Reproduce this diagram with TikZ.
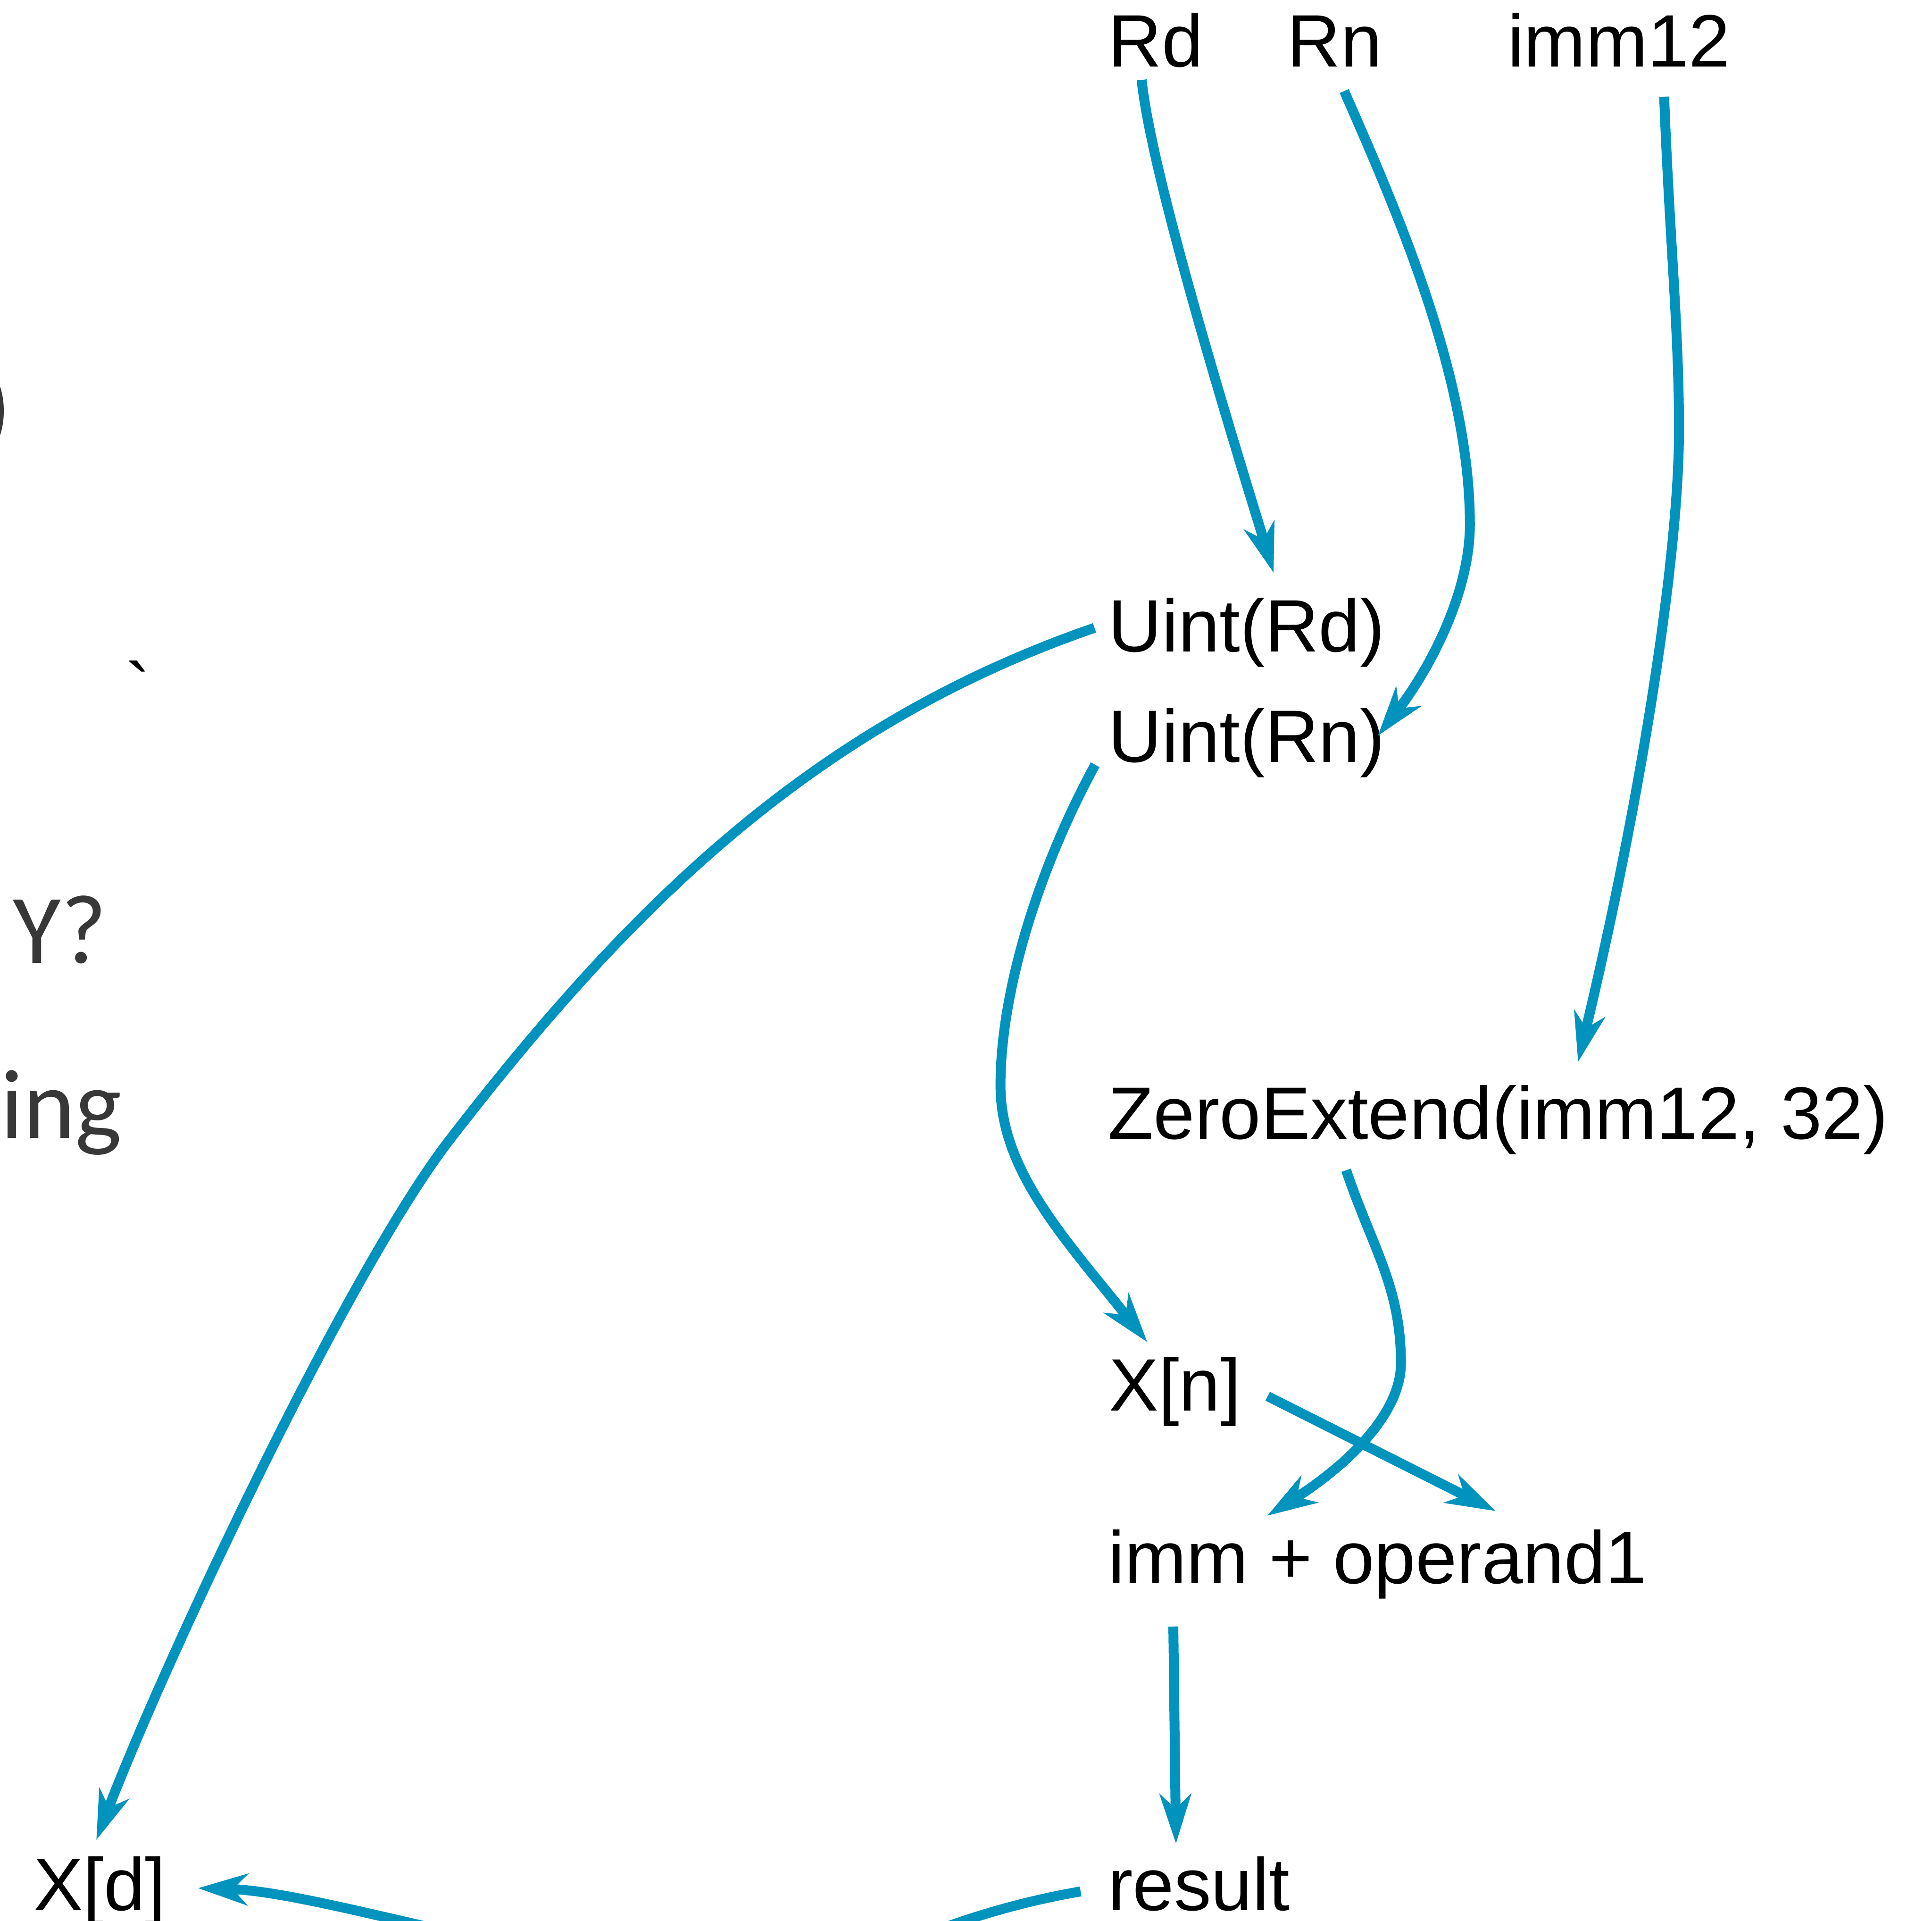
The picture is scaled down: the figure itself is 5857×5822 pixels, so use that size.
\documentclass[tikz,border=0pt]{standalone}
\usepackage{fontspec}
\setmainfont{Liberation Sans}
\newfontfamily\carlito{Carlito}
\newfontfamily\plainsans{Liberation Sans}[Ligatures=TeXOff]
\usetikzlibrary{arrows.meta}
\definecolor{flowblue}{RGB}{0,147,190}
\definecolor{ghost}{RGB}{56,56,56}
\tikzset{
  lbl/.style={anchor=base west, inner sep=0pt, outer sep=0pt, font=\fontsize{64}{77}\selectfont},
  ghosttxt/.style={anchor=base west, inner sep=0pt, outer sep=0pt, text=ghost, font=\carlito\fontsize{85}{100}\selectfont},
  flow/.style={draw=flowblue, line width=0.3cm, -{Stealth[length=1.5cm,width=0.95cm,inset=0.45cm]}},
  flowplain/.style={draw=flowblue, line width=0.3cm},
}
\begin{document}
\begin{tikzpicture}[x=0.01cm,y=-0.01cm]
\useasboundingbox (0,0) rectangle (5857,5822);
\clip (0,0) rectangle (5857,5822);

% main labels
\node[lbl] (rd)     at (3360,203)  {Rd};
\node[lbl] (rn)     at (3902,203)  {Rn};
\node[lbl] (imm)    at (4570,203)  {imm12};
\node[lbl] (uintrd) at (3360,1975) {Uint(Rd)};
\node[lbl] (uintrn) at (3360,2310) {Uint(Rn)};
\node[lbl] (zext)   at (3360,3453) {ZeroExtend(imm12, 32)};
\node[lbl] (xn)     at (3362,4276) {X[n]};
\node[lbl] (immop)  at (3360,4800) {imm + operand1};
\node[lbl] (result) at (3359,5790) {result};
\node[lbl] (xd)     at (102,5790)  {X[d]};

% partly visible texts at the left edge
\node[ghosttxt] (paren) at (-56,1335) {)};
\node[lbl, font=\plainsans\fontsize{64}{77}\selectfont] (grave) at (381,2168) {\symbol{96}};
\node[ghosttxt] (why) at (39,2919) {Y?};
\node[ghosttxt] (ing) at (2,3450) {ing};

% off-canvas ends
\coordinate (offa) at (2600,5960);
\coordinate (offb) at (1420,5868);

% connectors
\draw[flow] ([shift={(101,39)}]rd.base west)
  .. controls (3491,542) and (3761,1406) .. ([shift={(501,-239)}]uintrd.base west);

\draw[flow] ([shift={(173,73)}]rn.base west)
  .. controls (4230,630) and (4456,1140) .. (4456,1590)
  .. controls (4456,1800) and (4331,2033) .. ([shift={(817,-80)}]uintrn.base west);

\draw[flow] ([shift={(475,90)}]imm.base west)
  .. controls (5060,700) and (5090,1000) .. (5090,1300)
  .. controls (5090,1700) and (4970,2441) .. ([shift={(1424,-234)}]zext.base west);

\draw[flow] ([shift={(-42,-72)}]uintrd.base west)
  .. controls (2468,2196) and (1912,2744) .. (1363,3455)
  .. controls (1058,3850) and (507,5017) .. ([shift={(190,-213)}]xd.base west);

\draw[flow] ([shift={(-40,8)}]uintrn.base west)
  .. controls (3152,2626) and (3033,3000) .. (3033,3290)
  .. controls (3033,3550) and (3230,3756) .. ([shift={(116,-208)}]xn.base west);

\draw[flow] ([shift={(721,94)}]zext.base west)
  .. controls (4161,3784) and (4247,3900) .. (4247,4132)
  .. controls (4247,4300) and (4054,4461) .. ([shift={(482,-206)}]immop.base west);

\draw[flow] ([shift={(481,-44)}]xn.base west) -- ([shift={(1174,-220)}]immop.base west);

\draw[flow] ([shift={(197,130)}]immop.base west) -- ([shift={(206,-202)}]result.base west);

\draw[flowplain] ([shift={(-83,-57)}]result.base west)
  .. controls (3031,5775) and (2780,5860) .. (offa);

\draw[flow] (offb)
  .. controls (1127,5804) and (850,5730) .. ([shift={(498,-67)}]xd.base west);
\end{tikzpicture}
\end{document}
